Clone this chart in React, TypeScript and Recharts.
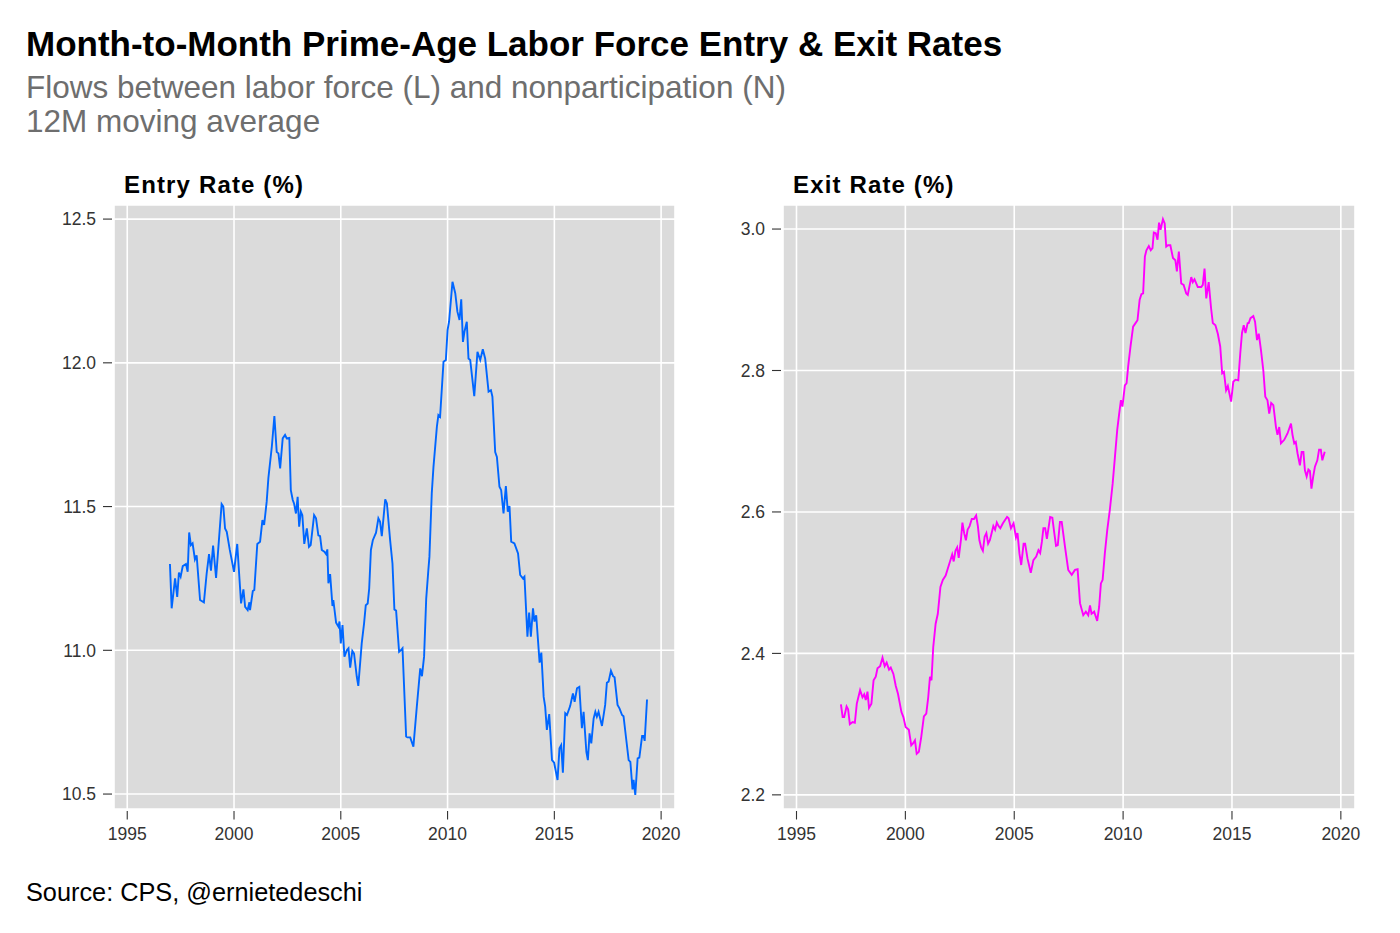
import React from 'react';
import { LineChart, Line, XAxis, YAxis, CartesianGrid } from 'recharts';

// ---------- data ----------
const entryYears = [
  1997.0, 1997.08, 1997.24, 1997.34, 1997.42, 1997.5, 1997.6, 1997.75, 1997.83, 1997.9, 1997.98,
  1998.06, 1998.17, 1998.25, 1998.41, 1998.59, 1998.72, 1998.83, 1998.92, 1999.02, 1999.16,
  1999.42, 1999.5, 1999.58, 1999.66, 1999.8, 2000.0, 2000.15, 2000.33, 2000.44, 2000.52, 2000.64,
  2000.72, 2000.75, 2000.88, 2000.95, 2001.09, 2001.22, 2001.33, 2001.41, 2001.53, 2001.61,
  2001.77, 2001.89, 2002.0, 2002.08, 2002.16, 2002.28, 2002.39, 2002.47, 2002.59, 2002.66,
  2002.75, 2002.81, 2002.9, 2002.98, 2003.05, 2003.13, 2003.2, 2003.29, 2003.41, 2003.51,
  2003.59, 2003.75, 2003.84, 2003.95, 2004.03, 2004.11, 2004.23, 2004.31, 2004.37, 2004.42,
  2004.5, 2004.61, 2004.65, 2004.78, 2004.89, 2004.94, 2005.0, 2005.08, 2005.17, 2005.28,
  2005.36, 2005.44, 2005.54, 2005.62, 2005.75, 2005.82, 2005.98, 2006.09, 2006.17, 2006.26,
  2006.33, 2006.41, 2006.5, 2006.65, 2006.76, 2006.84, 2006.92, 2007.08, 2007.16, 2007.31,
  2007.42, 2007.51, 2007.59, 2007.73, 2007.81, 2007.89, 2008.06, 2008.12, 2008.25, 2008.4,
  2008.56, 2008.72, 2008.8, 2008.9, 2009.0, 2009.1, 2009.15, 2009.26, 2009.34, 2009.5, 2009.57,
  2009.65, 2009.81, 2009.92, 2010.0, 2010.07, 2010.23, 2010.36, 2010.46, 2010.56, 2010.64,
  2010.72, 2010.79, 2010.9, 2010.98, 2011.06, 2011.25, 2011.4, 2011.53, 2011.65, 2011.76,
  2011.92, 2012.03, 2012.1, 2012.23, 2012.31, 2012.43, 2012.51, 2012.62, 2012.73, 2012.82,
  2012.9, 2012.98, 2013.13, 2013.3, 2013.4, 2013.53, 2013.6, 2013.74, 2013.82, 2013.9, 2014.0,
  2014.07, 2014.15, 2014.31, 2014.39, 2014.5, 2014.57, 2014.65, 2014.76, 2014.89, 2014.99,
  2015.15, 2015.24, 2015.32, 2015.4, 2015.51, 2015.59, 2015.74, 2015.87, 2015.95, 2016.06,
  2016.17, 2016.29, 2016.37, 2016.5, 2016.57, 2016.65, 2016.73, 2016.84, 2016.92, 2016.99,
  2017.07, 2017.23, 2017.38, 2017.46, 2017.54, 2017.65, 2017.75, 2017.82, 2017.96, 2018.05,
  2018.17, 2018.24, 2018.37, 2018.48, 2018.56, 2018.66, 2018.71, 2018.79, 2018.9, 2018.98,
  2019.11, 2019.18, 2019.23, 2019.34,
];
const entryValues = [
  11.3, 11.146, 11.25, 11.186, 11.27, 11.256, 11.293, 11.3, 11.273, 11.41, 11.366,
  11.372, 11.316, 11.33, 11.175, 11.167, 11.268, 11.335, 11.277, 11.364, 11.252,
  11.509, 11.5, 11.424, 11.412, 11.35, 11.273, 11.37, 11.163, 11.212, 11.151, 11.14,
  11.167, 11.14, 11.206, 11.21, 11.37, 11.378, 11.453, 11.436, 11.517, 11.6,
  11.708, 11.815, 11.69, 11.685, 11.633, 11.737, 11.749, 11.737, 11.739, 11.557,
  11.523, 11.511, 11.476, 11.534, 11.43, 11.482, 11.47, 11.37, 11.424, 11.36,
  11.366, 11.47, 11.459, 11.4, 11.397, 11.349, 11.343, 11.335, 11.351, 11.233,
  11.265, 11.154, 11.175, 11.096, 11.082, 11.1, 11.024, 11.088, 10.978, 11.0,
  11.007, 10.94, 10.998, 10.989, 10.908, 10.876, 11.024, 11.094, 11.157, 11.163,
  11.215, 11.349, 11.383, 11.409, 11.459, 11.447, 11.397, 11.525, 11.511, 11.383,
  11.302, 11.142, 11.138, 10.995, 11.0, 11.007, 10.7, 10.697, 10.697, 10.665,
  10.804, 10.937, 10.91, 10.978, 11.18, 11.279, 11.325, 11.546, 11.638, 11.778, 11.818,
  11.812, 12.004, 12.01, 12.114, 12.143, 12.282, 12.242, 12.178, 12.149, 12.221,
  12.073, 12.108, 12.143, 12.015, 12.01, 11.884, 12.038, 12.01, 12.047, 12.015,
  11.9, 11.905, 11.882, 11.69, 11.673, 11.569, 11.557, 11.476, 11.571, 11.482,
  11.502, 11.378, 11.372, 11.337, 11.262, 11.25, 11.256, 11.047, 11.131, 11.047, 11.146,
  11.1, 11.122, 10.957, 10.992, 10.838, 10.804, 10.723, 10.778, 10.618, 10.609,
  10.549, 10.659, 10.67, 10.574, 10.781, 10.775, 10.806, 10.85, 10.821, 10.868,
  10.873, 10.729, 10.786, 10.647, 10.618, 10.711, 10.676, 10.763, 10.786, 10.769,
  10.786, 10.737, 10.81, 10.887, 10.891, 10.929, 10.91, 10.906, 10.81, 10.798,
  10.775, 10.771, 10.688, 10.618, 10.612, 10.516, 10.549, 10.497, 10.624, 10.627,
  10.702, 10.702, 10.685, 10.829,
];

const exitYears = [
  1997.04, 1997.12, 1997.19, 1997.3, 1997.37, 1997.45, 1997.58, 1997.68, 1997.77, 1997.92,
  1998.03, 1998.11, 1998.18, 1998.26, 1998.33, 1998.44, 1998.54, 1998.64, 1998.72, 1998.84,
  1998.95, 1999.05, 1999.14, 1999.25, 1999.33, 1999.45, 1999.56, 1999.66, 1999.82, 1999.91,
  2000.01, 2000.16, 2000.27, 2000.36, 2000.44, 2000.52, 2000.62, 2000.73, 2000.85, 2000.96,
  2001.05, 2001.13, 2001.2, 2001.28, 2001.39, 2001.49, 2001.61, 2001.72, 2001.85, 2001.95,
  2002.05, 2002.15, 2002.22, 2002.3, 2002.38, 2002.45, 2002.55, 2002.62, 2002.7, 2002.78,
  2002.86, 2002.95, 2003.05, 2003.15, 2003.25, 2003.33, 2003.4, 2003.48, 2003.56, 2003.64,
  2003.72, 2003.8, 2003.88, 2003.96, 2004.04, 2004.12, 2004.2, 2004.28, 2004.36, 2004.48,
  2004.67, 2004.74, 2004.85, 2004.97, 2005.08, 2005.15, 2005.24, 2005.32, 2005.43, 2005.5,
  2005.61, 2005.76, 2005.88, 2006.01, 2006.11, 2006.19, 2006.27, 2006.34, 2006.42, 2006.5,
  2006.65, 2006.75, 2006.84, 2006.92, 2007.0, 2007.1, 2007.18, 2007.33, 2007.48, 2007.64,
  2007.79, 2007.91, 2008.02, 2008.17, 2008.29, 2008.4, 2008.48, 2008.55, 2008.67, 2008.81,
  2008.9, 2008.98, 2009.06, 2009.16, 2009.27, 2009.39, 2009.52, 2009.62, 2009.73, 2009.82,
  2009.9, 2009.97, 2010.08, 2010.16, 2010.23, 2010.34, 2010.46, 2010.57, 2010.66, 2010.76,
  2010.84, 2010.92, 2011.0, 2011.07, 2011.18, 2011.27, 2011.35, 2011.41, 2011.5, 2011.58,
  2011.65, 2011.72, 2011.83, 2011.91, 2011.98, 2012.06, 2012.17, 2012.29, 2012.4, 2012.47,
  2012.56, 2012.67, 2012.78, 2012.9, 2012.97, 2013.13, 2013.2, 2013.28, 2013.43, 2013.59,
  2013.66, 2013.74, 2013.82, 2013.93, 2014.04, 2014.12, 2014.24, 2014.35, 2014.46, 2014.55,
  2014.63, 2014.73, 2014.81, 2014.96, 2015.06, 2015.16, 2015.29, 2015.38, 2015.46, 2015.54,
  2015.62, 2015.72, 2015.77, 2015.85, 2015.98, 2016.06, 2016.15, 2016.23, 2016.33, 2016.44,
  2016.53, 2016.63, 2016.71, 2016.8, 2016.9, 2017.02, 2017.09, 2017.17, 2017.25, 2017.4,
  2017.55, 2017.71, 2017.78, 2017.86, 2017.93, 2018.01, 2018.12, 2018.2, 2018.28, 2018.35,
  2018.43, 2018.51, 2018.58, 2018.65, 2018.73, 2018.81, 2018.92, 2019.0, 2019.08, 2019.15,
  2019.26,
];
const exitValues = [
  2.328, 2.31, 2.31, 2.325, 2.321, 2.3, 2.303, 2.302, 2.329, 2.348,
  2.338, 2.342, 2.334, 2.346, 2.323, 2.329, 2.362, 2.367, 2.379, 2.382,
  2.394, 2.382, 2.387, 2.377, 2.38, 2.371, 2.354, 2.343, 2.317, 2.31,
  2.296, 2.292, 2.27, 2.273, 2.277, 2.258, 2.261, 2.282, 2.311, 2.315,
  2.338, 2.367, 2.362, 2.409, 2.442, 2.456, 2.494, 2.504, 2.51, 2.52,
  2.53, 2.54, 2.53, 2.545, 2.55, 2.535, 2.56, 2.585, 2.57, 2.56,
  2.575, 2.58, 2.59, 2.59, 2.595, 2.58, 2.56, 2.55, 2.545, 2.565,
  2.57, 2.555, 2.56, 2.57, 2.58, 2.575, 2.585, 2.58, 2.577, 2.584,
  2.593, 2.591, 2.577, 2.584, 2.564, 2.57, 2.541, 2.525, 2.555, 2.555,
  2.534, 2.514, 2.532, 2.537, 2.546, 2.542, 2.558, 2.577, 2.577, 2.562,
  2.593, 2.592, 2.57, 2.552, 2.553, 2.586, 2.586, 2.551, 2.518, 2.511,
  2.518, 2.519, 2.471, 2.454, 2.459, 2.454, 2.468, 2.456, 2.459, 2.446,
  2.466, 2.499, 2.504, 2.541, 2.574, 2.603, 2.64, 2.676, 2.716, 2.739,
  2.758, 2.749, 2.779, 2.782, 2.805, 2.834, 2.862, 2.867, 2.871, 2.9,
  2.908, 2.909, 2.961, 2.97, 2.976, 2.97, 2.973, 2.995, 2.994, 2.985,
  3.009, 2.999, 3.014, 3.008, 2.975, 2.977, 2.977, 2.959, 2.956, 2.94,
  2.968, 2.923, 2.921, 2.909, 2.907, 2.932, 2.925, 2.929, 2.918, 2.918,
  2.921, 2.944, 2.902, 2.925, 2.888, 2.867, 2.864, 2.852, 2.834, 2.796,
  2.798, 2.772, 2.778, 2.756, 2.784, 2.787, 2.786, 2.824, 2.853, 2.864,
  2.853, 2.867, 2.867, 2.874, 2.877, 2.869, 2.843, 2.852, 2.829, 2.8,
  2.763, 2.758, 2.739, 2.754, 2.751, 2.72, 2.709, 2.72, 2.697, 2.702,
  2.711, 2.725, 2.709, 2.697, 2.699, 2.683, 2.666, 2.685, 2.685, 2.659,
  2.65, 2.66, 2.658, 2.633, 2.65, 2.664, 2.673, 2.688, 2.688, 2.673,
  2.685,
];

const xTicks = [1995, 2000, 2005, 2010, 2015, 2020];
const entryTicks = [10.5, 11.0, 11.5, 12.0, 12.5];
const exitTicks = [2.2, 2.4, 2.6, 2.8, 3.0];

const titleText = 'Month-to-Month Prime-Age Labor Force Entry & Exit Rates';
const subtitleLines = ['Flows between labor force (L) and nonparticipation (N)', '12M moving average'];
const entryTitle = 'Entry Rate (%)';
const exitTitle = 'Exit Rate (%)';
const sourceText = 'Source: CPS, @ernietedeschi';

const entryData = entryYears.map((year, i) => ({ year, value: entryValues[i] }));
const exitData = exitYears.map((year, i) => ({ year, value: exitValues[i] }));

// ---------- styling / layout ----------
const FONT = '"Liberation Sans", Arial, Helvetica, sans-serif';
const PANEL_TOP = 205;
const PANEL_BOTTOM = 809;
const CHART_H = 933;
const X_AXIS_H = 40;
const X_DOMAIN: [number, number] = [1994.38, 2020.65];
const TICK_FS = 17.5;

const makeYTick = (axisX: number) => (props: any) => {
  const { y, payload } = props;
  return (
    <g>
      <line x1={axisX - 11} x2={axisX - 2} y1={y} y2={y} stroke="#333" strokeWidth={1.1} />
      <text
        x={axisX - 18}
        y={y + 6.2}
        textAnchor="end"
        fontSize={TICK_FS}
        fontFamily={FONT}
        fill="#333"
      >
        {Number(payload.value).toFixed(1)}
      </text>
    </g>
  );
};

const XTick = (props: any) => {
  const { x, payload } = props;
  return (
    <g>
      <line x1={x} x2={x} y1={PANEL_BOTTOM + 2} y2={PANEL_BOTTOM + 10.5} stroke="#333" strokeWidth={1.1} />
      <text x={x} y={839.5} textAnchor="middle" fontSize={TICK_FS} fontFamily={FONT} fill="#333">
        {payload.value}
      </text>
    </g>
  );
};

type PanelProps = {
  data: { year: number; value: number }[];
  left: number;
  width: number;
  yAxisWidth: number;
  rightMargin: number;
  yDomain: [number, number];
  yTicks: number[];
  color: string;
};

const Panel = ({ data, left, width, yAxisWidth, rightMargin, yDomain, yTicks, color }: PanelProps) => (
  <div style={{ position: 'absolute', left, top: 0, width, height: CHART_H }}>
    <LineChart
      width={width}
      height={CHART_H}
      data={data}
      margin={{ top: PANEL_TOP, right: rightMargin, left: 0, bottom: CHART_H - PANEL_BOTTOM - X_AXIS_H }}
    >
      <CartesianGrid fill="#dbdbdb" fillOpacity={1} stroke="#ffffff" strokeWidth={1.6} />
      <XAxis
        type="number"
        dataKey="year"
        domain={X_DOMAIN}
        ticks={xTicks}
        allowDataOverflow
        axisLine={false}
        tickLine={false}
        height={X_AXIS_H}
        tick={XTick}
        interval={0}
      />
      <YAxis
        type="number"
        domain={yDomain}
        ticks={yTicks}
        allowDataOverflow
        axisLine={false}
        tickLine={false}
        width={yAxisWidth}
        tick={makeYTick(yAxisWidth)}
        interval={0}
      />
      <Line
        type="linear"
        dataKey="value"
        stroke={color}
        strokeWidth={1.9}
        dot={false}
        isAnimationActive={false}
      />
    </LineChart>
  </div>
);

export default function App() {
  return (
    <div
      style={{
        position: 'absolute',
        left: 0,
        top: 0,
        width: 1400,
        height: 933,
        background: '#ffffff',
        fontFamily: FONT,
        overflow: 'hidden',
      }}
    >
      <Panel
        data={entryData}
        left={0}
        width={700}
        yAxisWidth={114}
        rightMargin={25}
        yDomain={[10.448, 12.549]}
        yTicks={entryTicks}
        color="#0066ff"
      />
      <Panel
        data={exitData}
        left={700}
        width={700}
        yAxisWidth={83}
        rightMargin={45}
        yDomain={[2.18, 3.034]}
        yTicks={exitTicks}
        color="#ff00ff"
      />
      <svg
        width={1400}
        height={933}
        style={{ position: 'absolute', left: 0, top: 0, pointerEvents: 'none' }}
      >
        <text x={26} y={56} fontSize={35} fontWeight="bold" fill="#000" fontFamily={FONT}>
          {titleText}
        </text>
        <text x={26} y={98} fontSize={31.5} fill="#6e6e6e" fontFamily={FONT}>
          {subtitleLines[0]}
        </text>
        <text x={26} y={132} fontSize={31.5} fill="#6e6e6e" fontFamily={FONT}>
          {subtitleLines[1]}
        </text>
        <text x={124} y={193} fontSize={24} fontWeight="bold" letterSpacing={1.15} fill="#000" fontFamily={FONT}>
          {entryTitle}
        </text>
        <text x={793} y={193} fontSize={24} fontWeight="bold" letterSpacing={1.15} fill="#000" fontFamily={FONT}>
          {exitTitle}
        </text>
        <text x={26} y={901} fontSize={25.3} fill="#000" fontFamily={FONT}>
          {sourceText}
        </text>
      </svg>
    </div>
  );
}
